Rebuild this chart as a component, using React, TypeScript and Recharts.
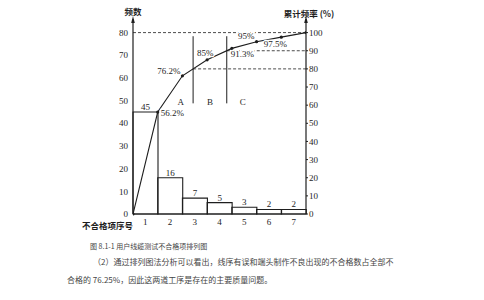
import React from 'react';
import {
  ComposedChart,
  Bar,
  Line,
  XAxis,
  YAxis,
  ReferenceLine,
  ReferenceDot,
  LabelList,
} from 'recharts';

// ---------- data ----------
const categories = ['1', '2', '3', '4', '5', '6', '7'];
const counts = [45, 16, 7, 5, 3, 2, 2];
const cumPositions = [0, 1, 2, 3, 4, 5, 6, 7];
const cumPercent = [0, 56.2, 76.2, 85, 91.3, 95, 97.5, 100];
const cumLabels = ['', '56.2%', '76.2%', '85%', '91.3%', '95%', '97.5%', ''];
const leftTicks = [0, 10, 20, 30, 40, 50, 60, 70, 80];
const rightTicks = [0, 10, 20, 30, 40, 50, 60, 70, 80, 90, 100];
const regionNames = ['A', 'B', 'C'];
const regionThresholds = [80, 90];

const caption = '图 8.1-1 用户线缆测试不合格项排列图';
const paragraph1 = '（2）通过排列图法分析可以看出，线序有误和端头制作不良出现的不合格数占全部不';
const paragraph2 = '合格的 76.25%，因此这两道工序是存在的主要质量问题。';

// ---------- derived tables ----------
const barData = categories.map((c, i) => ({ cat: c, count: counts[i] }));
const lineData = cumPositions.map((p, i) => ({ pos: p, cum: cumPercent[i], label: cumLabels[i] }));

// position on the cumulative axis where the curve crosses a threshold
const crossAt = (t: number) => {
  for (let i = 1; i < cumPercent.length; i++) {
    if (cumPercent[i] >= t) {
      const a = cumPercent[i - 1];
      const b = cumPercent[i];
      return cumPositions[i - 1] + ((t - a) / (b - a)) * (cumPositions[i] - cumPositions[i - 1]);
    }
  }
  return cumPositions[cumPositions.length - 1];
};
const dividers = regionThresholds.map(crossAt);
const xMax = cumPositions[cumPositions.length - 1];

// ---------- styles ----------
const INK = '#1e1e1e';
const SERIF = '"Liberation Serif", "DejaVu Serif", serif';
const CJK = '"Noto Sans CJK SC", "Noto Sans", sans-serif';

// label placement per cumulative point (dx, dy, anchor)
const cumLabelPlace: Array<[number, number, string]> = [
  [0, 0, 'start'],
  [3, 4, 'start'],
  [-2, -2, 'end'],
  [-2, -4, 'middle'],
  [-1, 9, 'start'],
  [-2, -3, 'end'],
  [-6, 10, 'middle'],
  [0, 0, 'start'],
];

const CumLabel = (props: any) => {
  const { x, y, value, index } = props;
  if (!value) return null;
  const [dx, dy, anchor] = cumLabelPlace[index] || [0, 0, 'start'];
  return (
    <text
      x={x + dx}
      y={y + dy}
      textAnchor={anchor}
      fontSize={9}
      fontFamily={SERIF}
      fill={INK}
      stroke="#fff"
      strokeWidth={2.5}
      paintOrder="stroke"
    >
      {value}
    </text>
  );
};

const LeftTitle = (props: any) => {
  const vb = props.viewBox || {};
  const ax = vb.x + vb.width;
  const top = vb.y;
  return (
    <g>
      <path d={`M${ax},${top - 3} L${ax - 1.8},${top + 4} L${ax + 1.8},${top + 4} Z`} fill={INK} />
      <text x={ax} y={top - 4} textAnchor="middle" fontSize={8.5} fontWeight={700} fontFamily={CJK} fill={INK}>
        频数
      </text>
    </g>
  );
};

const RightTitle = (props: any) => {
  const vb = props.viewBox || {};
  const ax = vb.x;
  const top = vb.y;
  return (
    <g>
      <path d={`M${ax},${top - 3} L${ax - 1.8},${top + 4} L${ax + 1.8},${top + 4} Z`} fill={INK} />
      <text x={ax + 3} y={top - 2} textAnchor="middle" fontSize={8.5} fontWeight={700} fontFamily={CJK} fill={INK}>
        累计频率 (%)
      </text>
    </g>
  );
};

const XTitle = (props: any) => {
  const vb = props.viewBox || {};
  return (
    <text x={vb.x} y={vb.y + 15} textAnchor="end" fontSize={8.5} fontWeight={700} fontFamily={CJK} fill={INK}>
      不合格项序号
    </text>
  );
};

const regionLabelPos = [dividers[0] - 0.5, (dividers[0] + dividers[1]) / 2, dividers[1] + 0.65];

export default function App() {
  return (
    <div style={{ position: 'absolute', left: 0, top: 0, width: 484, height: 300, background: '#fff', overflow: 'hidden' }}>
      <ComposedChart
        width={484}
        height={230}
        data={barData}
        margin={{ top: 19, right: 138, bottom: 0, left: 0 }}
        barCategoryGap={0}
        barGap={0}
      >
        <XAxis
          xAxisId="cat"
          dataKey="cat"
          type="category"
          height={16}
          tickLine={false}
          tickSize={0}
          tickMargin={5}
          axisLine={{ stroke: INK, strokeWidth: 1.2 }}
          tick={{ fontSize: 9, fontFamily: SERIF, fill: INK }}
          interval={0}
          label={<XTitle />}
        />
        <XAxis xAxisId="cum" dataKey="pos" type="number" domain={[0, xMax]} hide allowDataOverflow />
        <YAxis
          yAxisId="left"
          orientation="left"
          width={133}
          domain={[0, 86]}
          ticks={leftTicks}
          tickLine={false}
          tickSize={0}
          tickMargin={5}
          axisLine={{ stroke: INK, strokeWidth: 1.2 }}
          tick={{ fontSize: 9, fontFamily: SERIF, fill: INK }}
          interval={0}
          label={<LeftTitle />}
        />
        <YAxis
          yAxisId="right"
          orientation="right"
          width={40}
          domain={[0, 107.5]}
          ticks={rightTicks}
          tickSize={2}
          tickMargin={1}
          tickLine={{ stroke: INK }}
          axisLine={{ stroke: INK, strokeWidth: 1.2 }}
          tick={{ fontSize: 9, fontFamily: SERIF, fill: INK }}
          interval={0}
          label={<RightTitle />}
        />

        <ReferenceLine
          xAxisId="cum"
          yAxisId="left"
          segment={[{ x: 0, y: 80 }, { x: xMax, y: 80 }]}
          stroke={INK}
          strokeWidth={0.8}
          strokeDasharray="3 2"
        />
        {regionThresholds.map((t, i) => (
          <ReferenceLine
            key={'h' + t}
            xAxisId="cum"
            yAxisId="right"
            segment={[{ x: dividers[i], y: t }, { x: xMax, y: t }]}
            stroke={INK}
            strokeWidth={0.8}
            strokeDasharray="3 2"
          />
        ))}
        {dividers.map((d) => (
          <ReferenceLine
            key={'v' + d}
            xAxisId="cum"
            yAxisId="right"
            segment={[{ x: d, y: 61 }, { x: d, y: 98 }]}
            stroke={INK}
            strokeWidth={1}
          />
        ))}

        <Bar
          xAxisId="cat"
          yAxisId="left"
          dataKey="count"
          fill="none"
          stroke={INK}
          strokeWidth={1.1}
          isAnimationActive={false}
        >
          <LabelList dataKey="count" position="top" offset={2} fontSize={9} fontFamily={SERIF} fill={INK} />
        </Bar>

        <Line
          xAxisId="cum"
          yAxisId="right"
          data={lineData}
          dataKey="cum"
          type="linear"
          stroke={INK}
          strokeWidth={1.1}
          dot={{ r: 1.6, fill: INK, stroke: INK, strokeWidth: 0 }}
          isAnimationActive={false}
        >
          <LabelList dataKey="label" content={<CumLabel />} />
        </Line>

        {regionNames.map((n, i) => (
          <ReferenceDot
            key={n}
            xAxisId="cum"
            yAxisId="right"
            x={regionLabelPos[i]}
            y={62}
            r={0}
            fill="none"
            stroke="none"
            label={{ value: n, position: 'center', fontSize: 9, fontFamily: SERIF, fill: INK }}
          />
        ))}
      </ComposedChart>

      <div style={{ position: 'absolute', left: 90, top: 241, fontSize: 7, lineHeight: '10px', fontFamily: CJK, color: '#444', whiteSpace: 'nowrap' }}>
        {caption}
      </div>
      <div style={{ position: 'absolute', left: 93, top: 257, fontSize: 8, lineHeight: '10px', fontFamily: CJK, color: '#444', whiteSpace: 'nowrap' }}>
        {paragraph1}
      </div>
      <div style={{ position: 'absolute', left: 67, top: 275, fontSize: 8, lineHeight: '10px', fontFamily: CJK, color: '#444', whiteSpace: 'nowrap' }}>
        {paragraph2}
      </div>
    </div>
  );
}
